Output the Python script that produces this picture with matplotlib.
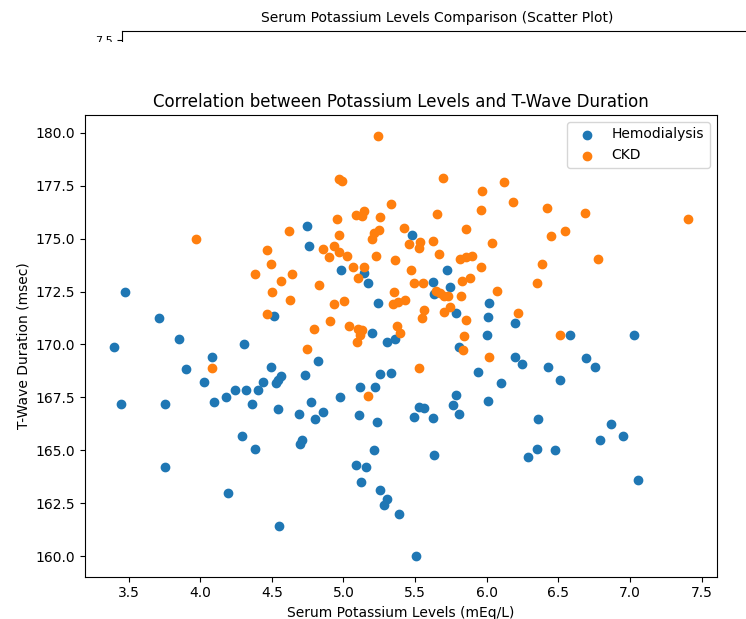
import matplotlib
matplotlib.use("Agg")
import matplotlib.pyplot as plt
from matplotlib.patches import Rectangle

# Hemodialysis group: serum potassium (mEq/L) and T-wave duration (msec)
hd_potassium = [3.477, 3.712, 3.849, 3.396, 4.304, 4.515, 4.079, 3.900, 4.492, 4.561,
                4.542, 4.531, 4.441, 4.027, 4.183, 4.243, 4.322, 4.406, 3.447, 3.753,
                4.097, 4.364, 4.542, 4.295, 4.380, 3.753, 4.197, 4.549, 4.747, 4.758,
                5.480, 4.986, 5.146, 5.172, 5.724, 5.625, 5.745, 5.239, 5.787, 6.019,
                6.012, 5.202, 5.304, 5.362, 6.001, 4.821, 4.728, 5.113, 5.223, 5.258,
                5.332, 4.974, 4.770, 4.689, 4.798, 4.859, 5.107, 5.235, 4.696, 4.712,
                5.084, 5.158, 5.123, 5.216, 5.258, 5.304, 5.281, 5.385, 5.508, 5.490,
                5.530, 5.560, 5.622, 5.629, 5.785, 5.764, 5.808, 5.942, 6.012, 6.098,
                5.808, 6.198, 6.581, 7.026, 6.198, 6.249, 6.425, 6.692, 6.755, 6.511,
                6.356, 6.871, 6.948, 6.790, 6.349, 6.476, 6.290, 7.056, 5.630]
hd_twave = [172.50, 171.23, 170.24, 169.89, 170.03, 171.34, 169.42, 168.82, 168.95, 168.50,
            168.31, 168.16, 168.22, 168.22, 167.53, 167.83, 167.87, 167.83, 167.21, 167.21,
            167.27, 167.21, 166.96, 165.67, 165.07, 164.20, 162.99, 161.45, 175.59, 174.64,
            175.16, 173.50, 173.39, 172.91, 173.50, 172.94, 172.71, 171.97, 171.50, 171.97,
            171.31, 170.55, 170.11, 170.24, 170.43, 169.21, 168.54, 168.00, 168.00, 168.62,
            168.66, 167.53, 167.28, 166.74, 166.49, 166.82, 166.66, 166.33, 165.28, 165.47,
            164.33, 164.22, 163.51, 165.01, 163.12, 162.73, 162.44, 162.00, 160.03, 166.58,
            167.05, 167.00, 166.54, 164.76, 167.61, 167.13, 166.74, 168.69, 167.35, 168.16,
            169.89, 171.03, 170.43, 170.43, 169.42, 169.09, 168.95, 169.34, 168.95, 168.30,
            166.49, 166.27, 165.67, 165.48, 165.09, 165.01, 164.68, 163.59, 172.36]

# CKD group
ckd_potassium = [3.969, 4.619, 4.464, 4.492, 4.380, 4.638, 4.561, 4.503, 4.626, 4.469,
                 4.079, 5.242, 4.972, 4.991, 5.694, 6.121, 5.970, 5.332, 5.961, 6.186,
                 5.090, 5.140, 5.130, 4.956, 5.258, 5.655, 4.967, 5.246, 5.211, 5.200,
                 5.420, 5.531, 5.460, 5.524, 5.625, 5.857, 6.040, 4.859, 4.932, 4.898,
                 4.970, 5.026, 5.230, 5.362, 5.668, 5.812, 5.852, 5.894, 5.961, 5.063,
                 5.141, 5.102, 4.828, 5.469, 5.494, 5.555, 5.645, 5.675, 5.700, 5.733,
                 5.830, 5.884, 6.070, 5.352, 5.348, 5.382, 5.432, 5.822, 5.002, 4.935,
                 5.559, 5.548, 5.700, 5.745, 5.854, 4.907, 4.795, 5.037, 5.100, 5.130,
                 5.115, 5.095, 5.376, 5.398, 5.840, 4.747, 5.524, 5.172, 5.834, 6.019,
                 6.418, 6.685, 7.405, 6.546, 6.446, 6.778, 6.384, 6.349, 6.221, 6.511]
ckd_twave = [174.96, 175.35, 174.44, 173.78, 173.31, 173.31, 172.98, 172.50, 172.09, 171.45,
             168.87, 179.84, 177.83, 177.70, 177.84, 177.67, 177.26, 176.65, 176.33, 176.72,
             176.12, 176.30, 176.05, 175.90, 176.03, 176.17, 175.16, 175.40, 175.25, 174.96,
             175.48, 174.83, 174.72, 174.55, 174.90, 175.47, 174.77, 174.52, 174.66, 174.11,
             174.35, 174.18, 174.17, 173.98, 174.25, 174.03, 174.15, 174.17, 173.64, 173.65,
             173.64, 173.15, 172.83, 173.50, 172.91, 172.91, 172.52, 172.43, 172.31, 172.28,
             173.00, 173.15, 172.52, 172.50, 171.90, 172.00, 172.10, 172.28, 172.04, 171.90,
             171.62, 171.26, 171.52, 171.75, 171.16, 171.10, 170.75, 170.88, 170.71, 170.70,
             170.45, 170.13, 170.86, 170.56, 170.41, 169.80, 168.87, 167.56, 169.76, 169.42,
             176.46, 176.19, 175.90, 175.35, 175.12, 174.02, 173.78, 172.91, 171.50, 170.43]

W, H = 746, 619
fig = plt.figure(figsize=(W / 100, H / 100), dpi=100)

# Partial top panel (cut-off remnant of a previous chart)
top_ax = fig.add_axes([122.3 / W, (H - 41.5) / H, (W + 20 - 122.3) / W, 11 / H])
top_ax.set_ylim(7.3, 8.4)
top_ax.set_yticks([7.5])
top_ax.set_yticklabels(["7.5"], fontsize=8)
top_ax.set_xticks([])
top_ax.spines["bottom"].set_visible(False)
top_ax.spines["right"].set_visible(False)
top_ax.set_title("Serum Potassium Levels Comparison (Scatter Plot)", fontsize=10,
                 x=(437 - 122.3) / (W + 20 - 122.3))
fig.add_artist(Rectangle((0, (H - 62) / H), 1, 20.5 / H, transform=fig.transFigure,
                         facecolor="white", edgecolor="none", zorder=10))

# Main scatter chart
ax = fig.add_axes([85 / W, (H - 576.7) / H, (716.7 - 85) / W, (576.7 - 115) / H])
ax.scatter(hd_potassium, hd_twave, color="#1f77b4", label="Hemodialysis")
ax.scatter(ckd_potassium, ckd_twave, color="#ff7f0e", label="CKD")
ax.set_title("Correlation between Potassium Levels and T-Wave Duration", fontsize=12)
ax.set_xlabel("Serum Potassium Levels (mEq/L)")
ax.set_ylabel("T-Wave Duration (msec)")
ax.legend(loc="upper right")

fig.savefig("out.png", dpi=100)
